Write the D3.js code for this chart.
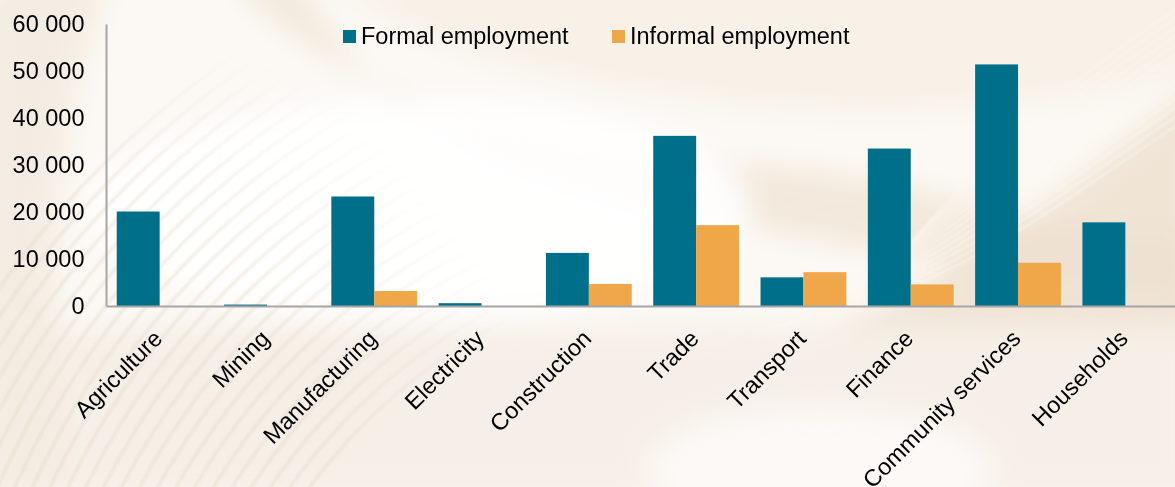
<!DOCTYPE html>
<html>
<head>
<meta charset="utf-8">
<script src="https://cdn.jsdelivr.net/npm/d3@7"></script>
<style>
  html, body { margin: 0; padding: 0; background: #fdfbf8; }
  svg { display: block; font-family: "Liberation Sans", Arial, sans-serif; }
</style>
</head>
<body>
<svg id="chart" width="1175" height="487"></svg>
<script>
// Employment by sector
const categories = ["Agriculture", "Mining", "Manufacturing", "Electricity", "Construction",
                    "Trade", "Transport", "Finance", "Community services", "Households"];
const formal   = [20100, 300, 23300, 600, 11300, 36200, 6100, 33500, 51400, 17800];
const informal = [0, 0, 3200, 0, 4700, 17200, 7200, 4600, 9200, 0];
const seriesNames = ["Formal employment", "Informal employment"];
const seriesColors = ["#006f8a", "#f0a74a"];
const yTicks = [0, 10000, 20000, 30000, 40000, 50000, 60000];

const W = 1175, H = 487;
const svg = d3.select("#chart");

// ---- soft decorative background ----
const defs = svg.append("defs");
defs.append("filter").attr("id", "soft").attr("x", "-20%").attr("y", "-20%")
  .attr("width", "140%").attr("height", "140%")
  .append("feGaussianBlur").attr("stdDeviation", 14);
defs.append("filter").attr("id", "soft2")
  .append("feGaussianBlur").attr("stdDeviation", 1.2);

// fade for the arc pattern: strong at the lower left, gone in the plot centre
const fadeGrad = defs.append("radialGradient").attr("id", "arcFade")
  .attr("gradientUnits", "userSpaceOnUse").attr("cx", -60).attr("cy", 620).attr("r", 820);
fadeGrad.append("stop").attr("offset", 0).attr("stop-color", "#fff");
fadeGrad.append("stop").attr("offset", 0.55).attr("stop-color", "#fff");
fadeGrad.append("stop").attr("offset", 0.8).attr("stop-color", "#000");
defs.append("mask").attr("id", "arcMask")
  .append("rect").attr("width", W).attr("height", H).attr("fill", "url(#arcFade)");

const bg = svg.append("g");
bg.append("rect").attr("width", W).attr("height", H).attr("fill", "#fcf9f5");

const blurred = bg.append("g").attr("filter", "url(#soft)");
// sweeping band from the top centre down to the right
blurred.append("path")
  .attr("d", "M230,-20 C330,90 520,150 760,165 C900,175 1000,215 1100,230 L1200,235 L1200,300 C1050,300 900,250 760,230 C560,205 380,140 300,-20 Z")
  .attr("fill", "#efe3d3").attr("opacity", 0.75);
// top swoosh highlight
blurred.append("path")
  .attr("d", "M330,-20 C430,60 600,95 800,110 C950,120 1080,100 1200,70 L1200,-20 Z")
  .attr("fill", "#f6efe6").attr("opacity", 0.9);
// rising band on the right
blurred.append("path")
  .attr("d", "M820,330 C950,290 1080,180 1200,80 L1200,330 Z")
  .attr("fill", "#ecdfcd").attr("opacity", 0.8);
// left edge tone
blurred.append("path")
  .attr("d", "M-20,-20 L110,-20 C60,120 40,260 70,487 L-20,487 Z")
  .attr("fill", "#f1e7da").attr("opacity", 0.7);
// lower band
blurred.append("path")
  .attr("d", "M-20,330 C300,320 600,330 1200,320 L1200,500 L-20,500 Z")
  .attr("fill", "#f3ebe1").attr("opacity", 0.7);
// brighter area bottom centre
blurred.append("ellipse").attr("cx", 820).attr("cy", 470).attr("rx", 170).attr("ry", 60)
  .attr("fill", "#fdfbf8").attr("opacity", 0.9);
// white plot area glow
blurred.append("ellipse").attr("cx", 420).attr("cy", 210).attr("rx", 330).attr("ry", 110)
  .attr("fill", "#ffffff").attr("opacity", 0.9);

// fine arcs in the lower left
const arcs = bg.append("g").attr("mask", "url(#arcMask)")
  .append("g").attr("filter", "url(#soft2)").attr("fill", "none");
d3.range(0, 24).forEach(i => {
  arcs.append("circle").attr("cx", 760).attr("cy", 820).attr("r", 560 + i * 16)
    .attr("stroke", "#e8dccb").attr("stroke-width", 3).attr("opacity", 0.5);
});
// diagonal stripes on the right
const stripes = bg.append("g").attr("filter", "url(#soft2)").attr("fill", "none");
d3.range(0, 14).forEach(i => {
  stripes.append("path")
    .attr("d", `M${760 + i * 8},${330 - i * 2} C950,${300 - i * 9} 1060,${200 - i * 9} 1200,${110 - i * 9}`)
    .attr("stroke", "#fbf6ef").attr("stroke-width", 2).attr("opacity", 0.6);
});

// ---- chart ----
const plotLeft = 106, plotRight = 1179, plotTop = 24, plotBottom = 306;

const x = d3.scaleBand().domain(categories).range([plotLeft, plotRight]).paddingInner(0).paddingOuter(0);
const xs = d3.scaleBand().domain([0, 1]).range([0, x.bandwidth()]).paddingInner(0).paddingOuter(0.25);
const y = d3.scaleLinear().domain([0, 60000]).range([plotBottom, plotTop]);

const fmt = v => d3.format(",")(v).replace(/,/g, " ");

// bars
const seriesData = [formal, informal];
seriesData.forEach((vals, s) => {
  svg.append("g").selectAll("rect")
    .data(categories.map((c, i) => ({ c, v: vals[i] })).filter(d => d.v > 0))
    .join("rect")
    .attr("x", d => x(d.c) + xs(s))
    .attr("y", d => y(d.v))
    .attr("width", xs.bandwidth())
    .attr("height", d => y(0) - y(d.v))
    .attr("fill", seriesColors[s]);
});

// y axis
const yAxis = svg.append("g").attr("transform", `translate(${plotLeft},0)`)
  .call(d3.axisLeft(y).tickValues(yTicks).tickFormat(fmt).tickSize(0).tickPadding(21.5));
yAxis.select(".domain").attr("stroke", "#a6a6a6").attr("stroke-width", 2);
yAxis.selectAll("text").attr("font-size", 23.5).attr("fill", "#000")
  .attr("font-family", "Liberation Sans, Arial, sans-serif");

// x axis
const xAxis = svg.append("g").attr("transform", `translate(0,${plotBottom})`)
  .call(d3.axisBottom(x).tickSize(0).tickFormat(""));
xAxis.select(".domain").attr("stroke", "#a6a6a6").attr("stroke-width", 2);

svg.append("g").selectAll("text")
  .data(categories)
  .join("text")
  .attr("transform", d => `translate(${x(d) + x.bandwidth() / 2 + 4},${plotBottom + 34}) rotate(-45)`)
  .attr("text-anchor", "end")
  .attr("font-size", 23.5)
  .attr("fill", "#000")
  .text(d => d);

// legend
const legendX = [343, 612];
const legend = svg.append("g");
seriesNames.forEach((name, s) => {
  legend.append("rect").attr("x", legendX[s]).attr("y", 30).attr("width", 13).attr("height", 13)
    .attr("fill", seriesColors[s]);
  legend.append("text").attr("x", legendX[s] + 18).attr("y", 43.5)
    .attr("font-size", 23.5).attr("fill", "#000").text(name);
});
</script>
</body>
</html>
